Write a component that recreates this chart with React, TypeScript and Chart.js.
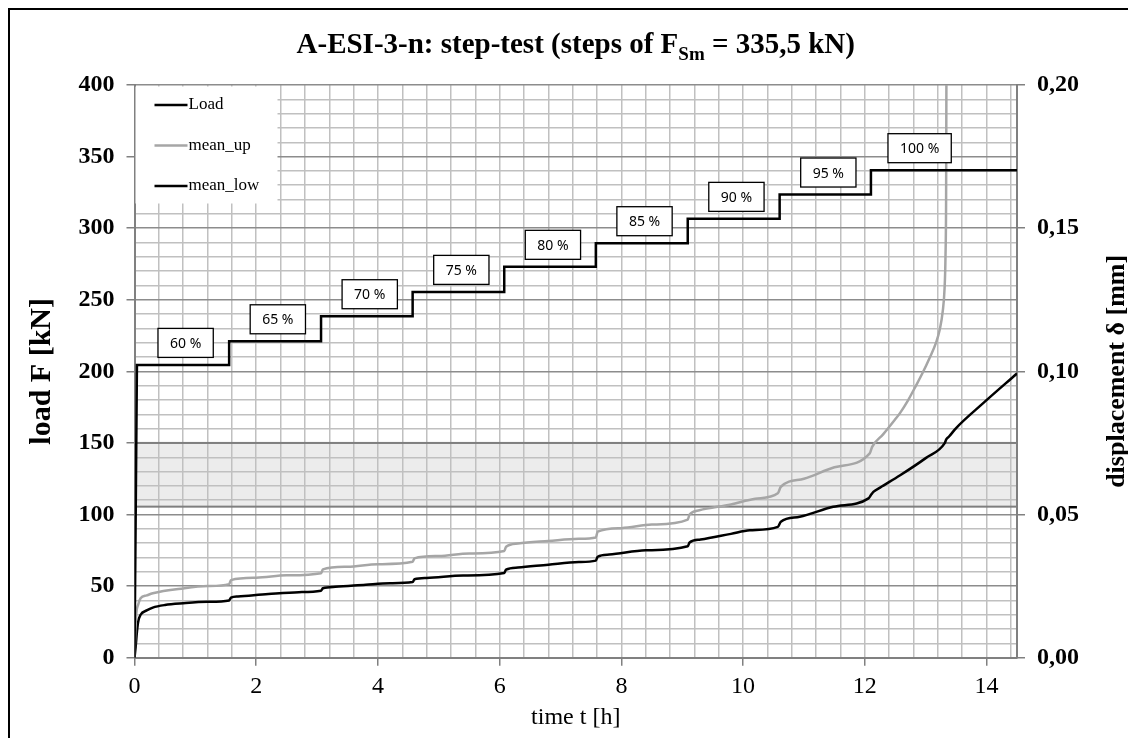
import React, { useEffect, useRef } from 'react';
import { Chart, registerables } from 'chart.js';

Chart.register(...registerables);

const SERIF = '"Liberation Serif", "Times New Roman", serif';
const SANS = '"Noto Sans", "Liberation Sans", sans-serif';

// Load steps (time in h, load in kN)
const stepTimes = [0.04, 1.555, 3.065, 4.57, 6.075, 7.58, 9.09, 10.6, 12.1];
const stepLoads = [204.5, 221, 238.5, 255.5, 273, 289.5, 306.5, 323.5, 340.5];
const stepLabels = ['60 %', '65 %', '70 %', '75 %', '80 %', '85 %', '90 %', '95 %', '100 %'];
const timeEnd = 14.5;

// mean_up displacement (time in h, displacement in mm)
const upT = [0, 0.01, 0.03, 0.06, 0.1, 0.2, 0.3, 0.8, 1.2, 1.555, 1.585, 2.0, 2.5, 3.065, 3.095, 3.5, 4.0, 4.57, 4.6, 5.0, 5.5, 6.075, 6.105, 6.3, 6.8, 7.3, 7.58, 7.61, 8.0, 8.5, 9.09, 9.12, 9.28, 9.8, 10.2, 10.57, 10.62, 11.0, 11.5, 12.08, 12.12, 12.3, 12.49, 12.58, 12.7, 12.84, 12.95, 13.06, 13.17, 13.23, 13.28, 13.31, 13.325, 13.335, 13.34];
const upD = [0, 0.0075, 0.0155, 0.0185, 0.02075, 0.02175, 0.0225, 0.0242, 0.025, 0.0257, 0.0271, 0.0279, 0.02875, 0.0295, 0.03085, 0.03175, 0.03265, 0.0335, 0.0347, 0.0355, 0.0364, 0.03725, 0.03875, 0.0399, 0.04075, 0.0415, 0.042, 0.044, 0.04525, 0.0465, 0.04825, 0.05, 0.0515, 0.0535, 0.0555, 0.0574, 0.0597, 0.0625, 0.0665, 0.07135, 0.07365, 0.078, 0.083, 0.0855, 0.0895, 0.095, 0.0995, 0.1045, 0.11, 0.1145, 0.121, 0.129, 0.14, 0.16, 0.2];

// mean_low displacement (time in h, displacement in mm)
const lowT = [0, 0.02, 0.04, 0.06, 0.1, 0.2, 0.3, 0.5, 0.8, 1.2, 1.555, 1.585, 1.7, 2.2, 2.7, 3.065, 3.095, 3.3, 3.8, 4.2, 4.57, 4.6, 4.8, 5.4, 6.075, 6.105, 6.3, 6.8, 7.3, 7.58, 7.61, 7.8, 8.4, 9.09, 9.12, 9.3, 9.8, 10.11, 10.57, 10.62, 10.93, 11.48, 12.06, 12.1, 12.14, 12.25, 12.58, 13.0, 13.31, 13.34, 13.38, 13.5, 13.94, 14.5];
const lowD = [0, 0.004, 0.009, 0.0125, 0.015, 0.0165, 0.0175, 0.0184, 0.019, 0.0195, 0.02, 0.021, 0.0214, 0.02225, 0.0229, 0.0234, 0.02425, 0.02475, 0.0255, 0.026, 0.0264, 0.0274, 0.02785, 0.0287, 0.0296, 0.03075, 0.0315, 0.0325, 0.0334, 0.0339, 0.03525, 0.036, 0.0375, 0.0389, 0.04025, 0.04125, 0.04325, 0.0445, 0.0457, 0.0475, 0.0492, 0.0527, 0.05565, 0.0568, 0.0579, 0.0594, 0.0637, 0.0697, 0.07485, 0.0763, 0.07715, 0.0802, 0.0888, 0.09925];

// shaded band (load range in kN)
const bandRange = [105.5, 150];

const titleMain = 'A-ESI-3-n: step-test (steps of F';
const titleSub = 'Sm';
const titleEnd = ' = 335,5 kN)';
const xTitle = 'time t [h]';
const yTitle = 'load F [kN]';
const y2Title = 'displacement δ [mm]';

function buildLoad() {
  const pts: { x: number; y: number }[] = [{ x: 0, y: 0 }];
  stepTimes.forEach((t, i) => {
    if (i > 0) pts.push({ x: t, y: stepLoads[i - 1] });
    pts.push({ x: t, y: stepLoads[i] });
  });
  pts.push({ x: timeEnd, y: stepLoads[stepLoads.length - 1] });
  return pts;
}

const isEven = (v: number) => Math.abs(v - Math.round(v)) < 1e-6 && Math.round(v) % 2 === 0;
const is50 = (v: number) => Math.abs(v % 50) < 1e-6;

const decorPlugin = {
  id: 'decor',
  beforeDraw(chart: any) {
    const { ctx, chartArea, scales } = chart;
    const y = scales.y;
    const yTop = y.getPixelForValue(bandRange[1]);
    const yBot = y.getPixelForValue(bandRange[0]);
    ctx.save();
    ctx.fillStyle = '#ececec';
    ctx.fillRect(chartArea.left, yTop, chartArea.right - chartArea.left, yBot - yTop);
    ctx.restore();
  },
  beforeDatasetsDraw(chart: any) {
    const { ctx, chartArea, scales } = chart;
    const y = scales.y;
    const yTop = y.getPixelForValue(bandRange[1]);
    const yBot = y.getPixelForValue(bandRange[0]);
    ctx.save();
    ctx.strokeStyle = '#7f7f7f';
    ctx.lineWidth = 2;
    ctx.strokeRect(chartArea.left + 1, yTop, chartArea.right - chartArea.left - 1, yBot - yTop);

    // legend
    const lx = chartArea.left + 1;
    const ly = chartArea.top + 1.5;
    ctx.fillStyle = '#ffffff';
    ctx.fillRect(lx, ly, 142, 117);
    chart.data.datasets.forEach((ds: any, i: number) => {
      const yy = chartArea.top + 20 + i * 40.5;
      ctx.strokeStyle = ds.borderColor;
      ctx.lineWidth = 2.5;
      ctx.beginPath();
      ctx.moveTo(chartArea.left + 20, yy);
      ctx.lineTo(chartArea.left + 53, yy);
      ctx.stroke();
      ctx.fillStyle = '#000';
      ctx.font = `17px ${SERIF}`;
      ctx.textBaseline = 'middle';
      ctx.textAlign = 'left';
      ctx.fillText(ds.label, chartArea.left + 54, yy);
    });
    ctx.restore();
  },
  afterDatasetsDraw(chart: any) {
    const { ctx, scales } = chart;
    const x = scales.x;
    const y = scales.y;
    ctx.save();
    ctx.font = `14px ${SANS}`;
    stepLabels.forEach((lab, i) => {
      const cx = x.getPixelForValue(stepTimes[i] + 0.8);
      const cy = y.getPixelForValue(stepLoads[i]) - 22;
      const w = ctx.measureText(lab).width + 24;
      const h = 29;
      ctx.fillStyle = '#fff';
      ctx.fillRect(cx - w / 2, cy - h / 2, w, h);
      ctx.strokeStyle = '#000';
      ctx.lineWidth = 1.3;
      ctx.strokeRect(cx - w / 2, cy - h / 2, w, h);
      ctx.fillStyle = '#000';
      ctx.textAlign = 'center';
      ctx.textBaseline = 'middle';
      ctx.fillText(lab, cx, cy + 1);
    });
    ctx.restore();
  },
  afterDraw(chart: any) {
    const { ctx, chartArea } = chart;
    ctx.save();
    // title with subscript
    ctx.fillStyle = '#000';
    ctx.textBaseline = 'middle';
    ctx.textAlign = 'left';
    const mainFont = `bold 29px ${SERIF}`;
    const subFont = `bold 19px ${SERIF}`;
    ctx.font = mainFont;
    const w1 = ctx.measureText(titleMain).width;
    const w3 = ctx.measureText(titleEnd).width;
    ctx.font = subFont;
    const w2 = ctx.measureText(titleSub).width;
    const total = w1 + w2 + w3;
    const cx = (chartArea.left + chartArea.right) / 2;
    const ty = 36;
    let sx = cx - total / 2;
    ctx.font = mainFont;
    ctx.fillText(titleMain, sx, ty);
    sx += w1;
    ctx.font = subFont;
    ctx.fillText(titleSub, sx, ty + 9);
    sx += w2;
    ctx.font = mainFont;
    ctx.fillText(titleEnd, sx, ty);

    // right axis title, reading bottom-to-top
    ctx.translate(1107, (chartArea.top + chartArea.bottom) / 2);
    ctx.rotate(-Math.PI / 2);
    ctx.textAlign = 'center';
    ctx.font = `bold 26px ${SERIF}`;
    ctx.fillText(y2Title, 0, 0);
    ctx.restore();
  },
};

export default function App() {
  const ref = useRef<HTMLCanvasElement | null>(null);
  useEffect(() => {
    if (!ref.current) return;
    const loadData = buildLoad();
    const upData = upT.map((t, i) => ({ x: t, y: upD[i] }));
    const lowData = lowT.map((t, i) => ({ x: t, y: lowD[i] }));
    const chart = new Chart(ref.current, {
      type: 'line',
      data: {
        datasets: [
          { label: 'Load', data: loadData, yAxisID: 'y', borderColor: '#000000', borderWidth: 2.5, pointRadius: 0, tension: 0 },
          { label: 'mean_up', data: upData, yAxisID: 'y2', borderColor: '#a6a6a6', borderWidth: 2.5, pointRadius: 0, cubicInterpolationMode: 'monotone' },
          { label: 'mean_low', data: lowData, yAxisID: 'y2', borderColor: '#000000', borderWidth: 2.5, pointRadius: 0, cubicInterpolationMode: 'monotone' },
        ] as any,
      },
      options: {
        responsive: false,
        animation: false,
        layout: { padding: { top: 75, left: 0, right: 0, bottom: 0 } },
        plugins: { legend: { display: false }, tooltip: { enabled: false }, title: { display: false } },
        scales: {
          x: {
            type: 'linear',
            min: 0,
            max: timeEnd,
            ticks: {
              stepSize: 0.4,
              includeBounds: false,
              autoSkip: false,
              maxRotation: 0,
              minRotation: 0,
              padding: 7,
              color: '#000',
              font: { family: SERIF, size: 24 },
              callback: (v: any) => (isEven(Number(v)) ? String(Math.round(Number(v))) : ''),
            },
            grid: {
              color: '#c0c0c0',
              lineWidth: 1.5,
              tickLength: 8,
              tickColor: (c: any) => (c.tick && isEven(c.tick.value) ? '#808080' : 'rgba(0,0,0,0)'),
            },
            border: { color: '#808080', width: 2 },
            title: { display: true, text: xTitle, color: '#000', font: { family: SERIF, size: 24 }, padding: { top: 0, bottom: 6 } },
            afterFit: (s: any) => { s.height = 80.3; },
          },
          y: {
            type: 'linear',
            position: 'left',
            min: 0,
            max: 400,
            ticks: {
              stepSize: 10,
              autoSkip: false,
              padding: 12,
              color: '#000',
              font: { family: SERIF, size: 24, weight: 'bold' },
              callback: (v: any) => (is50(Number(v)) ? String(v) : ''),
            },
            grid: {
              color: (c: any) => (c.tick && is50(c.tick.value) ? '#8c8c8c' : '#c0c0c0'),
              lineWidth: 1.5,
              tickLength: 8,
              tickColor: (c: any) => (c.tick && is50(c.tick.value) ? '#808080' : 'rgba(0,0,0,0)'),
            },
            border: { color: '#808080', width: 2 },
            title: { display: true, text: yTitle, color: '#000', font: { family: SERIF, size: 30, weight: 'bold' }, padding: { top: 14, bottom: 0 } },
            afterFit: (s: any) => { s.width = 124.5; },
          },
          y2: {
            type: 'linear',
            position: 'right',
            min: 0,
            max: 0.2,
            ticks: {
              stepSize: 0.05,
              padding: 12,
              color: '#000',
              font: { family: SERIF, size: 24, weight: 'bold' },
              callback: (v: any) => Number(v).toFixed(2).replace('.', ','),
            },
            grid: { drawOnChartArea: false, tickLength: 8, color: '#808080', lineWidth: 1.5 },
            border: { color: '#808080', width: 2 },
            afterFit: (s: any) => { s.width = 119; },
          },
        },
      } as any,
      plugins: [decorPlugin],
    });
    return () => chart.destroy();
  }, []);

  return (
    <div
      style={{
        width: 1128,
        height: 730,
        boxSizing: 'border-box',
        borderLeft: '2px solid #000',
        borderTop: '2px solid #000',
        background: '#fff',
        overflow: 'hidden',
      }}
    >
      <canvas ref={ref} width={1126} height={728} style={{ display: 'block', width: 1126, height: 728 }} />
    </div>
  );
}
